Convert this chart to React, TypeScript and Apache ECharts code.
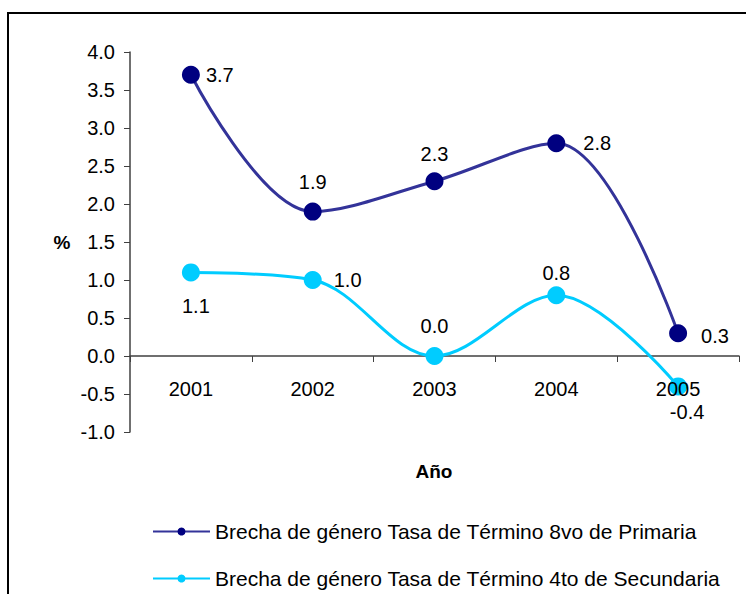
import React, { useEffect, useRef } from "react";
import * as echarts from "echarts";

const years = ["2001", "2002", "2003", "2004", "2005"];
const primaria = [3.7, 1.9, 2.3, 2.8, 0.3];
const secundaria = [1.1, 1.0, 0.0, 0.8, -0.4];
const seriesNames = [
  "Brecha de género Tasa de Término 8vo de Primaria",
  "Brecha de género Tasa de Término 4to de Secundaria",
];

const FONT = "Liberation Sans, Arial, sans-serif";

const primLabelPos = [
  { position: "right", distance: 6 },
  { position: "top", distance: 11 },
  { position: "top", distance: 8 },
  { position: "right", distance: 18 },
  { position: "right", distance: 14, offset: [0, 3] },
];
const secLabelPos = [
  { position: "bottom", distance: 15, offset: [5, 0] },
  { position: "right", distance: 12 },
  { position: "top", distance: 11 },
  { position: "top", distance: 3 },
  { position: "bottom", distance: 7, offset: [9, 0] },
];

export default function App() {
  const ref = useRef<HTMLDivElement>(null);
  useEffect(() => {
    if (!ref.current) return;
    const chart = echarts.init(ref.current, null, { renderer: "svg" });
    const mkData = (vals: number[], pos: any[]) =>
      vals.map((v, i) => ({
        value: v,
        label: { show: true, ...pos[i] },
      }));
    const labelStyle = {
      show: true,
      fontSize: 20,
      color: "#000",
      fontFamily: FONT,
      formatter: (p: any) => Number(p.value).toFixed(1),
    };
    chart.setOption({
      animation: false,
      textStyle: { fontFamily: FONT },
      grid: { left: 130, right: 7, top: 52, bottom: 162, containLabel: false },
      xAxis: [
        {
          type: "category",
          data: years,
          boundaryGap: true,
          axisLine: { onZero: true, lineStyle: { color: "#404040", width: 1.5 } },
          axisTick: { show: true, length: 6, inside: false, lineStyle: { color: "#404040" } },
          axisLabel: { show: false },
          splitLine: { show: false },
        },
        {
          type: "category",
          data: years,
          position: "bottom",
          boundaryGap: true,
          z: 10,
          axisLine: { show: false, onZero: false },
          axisTick: { show: false },
          axisLabel: { margin: -53, fontSize: 20, color: "#000", fontFamily: FONT },
          splitLine: { show: false },
        },
      ],
      yAxis: {
        type: "value",
        min: -1,
        max: 4,
        interval: 0.5,
        axisLine: { show: true, lineStyle: { color: "#404040", width: 1.5 } },
        axisTick: { show: true, length: 6, lineStyle: { color: "#404040" } },
        axisLabel: {
          margin: 15,
          fontSize: 20,
          color: "#000",
          fontFamily: FONT,
          formatter: (v: number) => v.toFixed(1),
        },
        splitLine: { show: false },
      },
      legend: {
        orient: "vertical",
        left: 147,
        top: 516,
        itemGap: 26,
        itemWidth: 57,
        itemHeight: 10,
        textStyle: { fontSize: 21, color: "#000", fontFamily: FONT },
        data: seriesNames,
      },
      graphic: [
        {
          type: "rect",
          shape: { x: 8, y: 13, width: 800, height: 700 },
          style: { fill: "none", stroke: "#000", lineWidth: 2 },
          silent: true,
        },
        {
          type: "text",
          x: 62,
          y: 242,
          style: {
            text: "%",
            fontSize: 19,
            fontWeight: "bold",
            fontFamily: FONT,
            fill: "#000",
            align: "center",
            verticalAlign: "middle",
          },
        },
        {
          type: "text",
          x: 434,
          y: 471,
          style: {
            text: "Año",
            fontSize: 19,
            fontWeight: "bold",
            fontFamily: FONT,
            fill: "#000",
            align: "center",
            verticalAlign: "middle",
          },
        },
      ],
      series: [
        {
          name: seriesNames[0],
          type: "line",
          smooth: 0.35,
          symbol: "circle",
          symbolSize: 18,
          itemStyle: { color: "#000080" },
          lineStyle: { color: "#333399", width: 3 },
          label: labelStyle,
          data: mkData(primaria, primLabelPos),
          z: 3,
        },
        {
          name: seriesNames[1],
          type: "line",
          smooth: 0.35,
          symbol: "circle",
          symbolSize: 18,
          itemStyle: { color: "#00CCFF" },
          lineStyle: { color: "#00CCFF", width: 3 },
          label: labelStyle,
          data: mkData(secundaria, secLabelPos),
          z: 2,
        },
      ],
    });
    return () => chart.dispose();
  }, []);
  return (
    <div
      ref={ref}
      style={{ position: "fixed", left: 0, top: 0, width: 746, height: 594, background: "#fff" }}
    />
  );
}
